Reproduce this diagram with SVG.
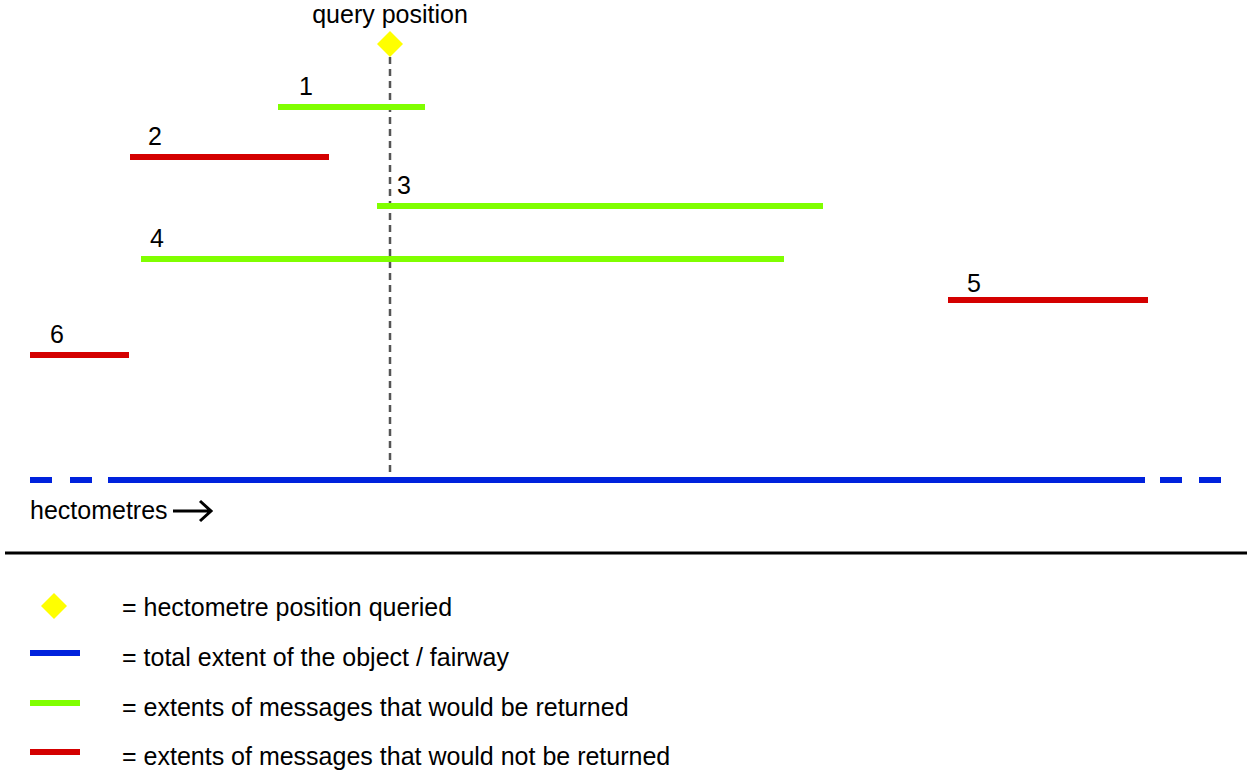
<svg xmlns="http://www.w3.org/2000/svg" width="1260" height="780" viewBox="0 0 1260 780">
<style>
text{font-family:"Liberation Sans",Arial,sans-serif;font-size:25px;fill:#000}
.g{stroke:#80ff00;stroke-width:6}
.r{stroke:#d40000;stroke-width:6}
.b{stroke:#0022dd;stroke-width:6}
.d{fill:#ffff00}
</style>
<rect width="1260" height="780" fill="#fff"/>
<g id="connectors">
<line x1="390" y1="57" x2="390" y2="478" stroke="#555" stroke-width="2.5" stroke-dasharray="7,5"/>
</g>
<g id="query">
<polygon class="d" points="390,31 403,44 390,57 377,44"/>
<text x="390" y="23" text-anchor="middle">query position</text>
</g>
<g id="fairway">
<line class="b" x1="30" y1="480" x2="52" y2="480"/>
<line class="b" x1="70" y1="480" x2="92" y2="480"/>
<line class="b" x1="108" y1="480" x2="1145" y2="480"/>
<line class="b" x1="1160" y1="480" x2="1182" y2="480"/>
<line class="b" x1="1199" y1="480" x2="1221" y2="480"/>
<text x="30" y="519">hectometres</text>
<path d="M173,511 H210 M200,501 L211,511 L200,521" fill="none" stroke="#000" stroke-width="3"/>
</g>
<g id="m1"><line class="g" x1="278" y1="107" x2="425" y2="107"/><text x="299" y="95">1</text></g>
<g id="m2"><line class="r" x1="130" y1="157" x2="329" y2="157"/><text x="148" y="145">2</text></g>
<g id="m3"><line class="g" x1="377" y1="206" x2="823" y2="206"/><text x="397" y="194">3</text></g>
<g id="m4"><line class="g" x1="141" y1="259" x2="784" y2="259"/><text x="150" y="247">4</text></g>
<g id="m5"><line class="r" x1="948" y1="300" x2="1148" y2="300"/><text x="967" y="292">5</text></g>
<g id="m6"><line class="r" x1="30" y1="355" x2="129" y2="355"/><text x="50" y="343">6</text></g>
<line x1="5" y1="553" x2="1247" y2="553" stroke="#000" stroke-width="3"/>
<g id="legend">
<polygon class="d" points="54,593 67,606 54,619 41,606"/>
<text x="122" y="616">= hectometre position queried</text>
<line class="b" x1="30" y1="653" x2="80" y2="653"/>
<text x="122" y="666">= total extent of the object / fairway</text>
<line class="g" x1="30" y1="703" x2="80" y2="703"/>
<text x="122" y="716">= extents of messages that would be returned</text>
<line class="r" x1="30" y1="752" x2="80" y2="752"/>
<text x="122" y="765">= extents of messages that would not be returned</text>
</g>
</svg>
